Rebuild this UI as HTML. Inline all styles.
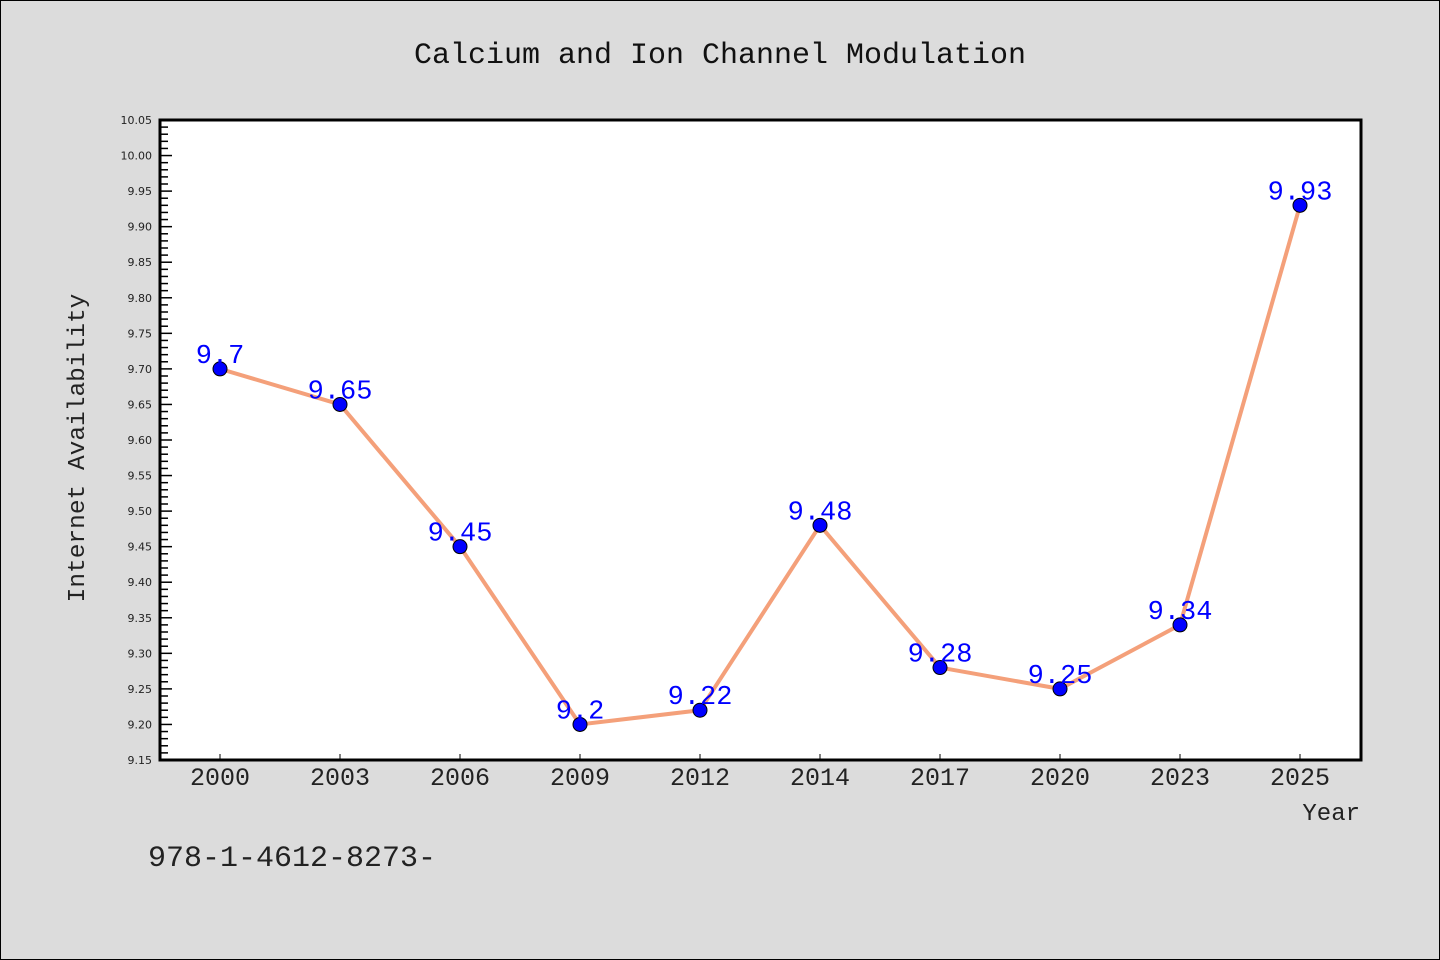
<!DOCTYPE html>
<html><head><meta charset="utf-8"><style>
body{margin:0;background:#dcdcdc;}
svg{display:block;font-family:"Liberation Mono","WenQuanYi Zen Hei",monospace;}
</style></head><body>
<svg width="1440" height="960">
<rect x="0.5" y="0.5" width="1439" height="959" fill="#dcdcdc" stroke="#000"/>
<text x="720" y="63" text-anchor="middle" font-size="30" fill="#111">Calcium and Ion Channel Modulation</text>
<rect x="160" y="120" width="1201" height="640" fill="#fff"/>
<g id="yaxis"></g>
<g id="xaxis"></g>
<g id="series"></g>
<rect x="160" y="120" width="1201" height="640" fill="none" stroke="#000" stroke-width="3"/>
<text x="0" y="0" transform="translate(84,448) rotate(-90)" text-anchor="middle" font-size="24.5" fill="#222">Internet Availability</text>
<text x="1360" y="820" text-anchor="end" font-size="24" fill="#222">Year</text>
<text x="148" y="866" font-size="30" fill="#222">978-1-4612-8273-</text>
</svg>
<script>
const categories=["2000","2003","2006","2009","2012","2014","2017","2020","2023","2025"];
const values=[9.7,9.65,9.45,9.2,9.22,9.48,9.28,9.25,9.34,9.93];
const valueLabels=["9.7","9.65","9.45","9.2","9.22","9.48","9.28","9.25","9.34","9.93"];
const yTicks=["9.15","9.20","9.25","9.30","9.35","9.40","9.45","9.50","9.55","9.60","9.65","9.70","9.75","9.80","9.85","9.90","9.95","10.00","10.05"];
const NS="http://www.w3.org/2000/svg";
const yMin=9.15,yMax=10.05,plotTop=120,plotBot=760,plotLeft=160,plotRight=1360;
const yScale=v=>plotBot-(v-yMin)/(yMax-yMin)*(plotBot-plotTop);
const bw=(plotRight-plotLeft)/categories.length;
const xScale=i=>plotLeft+bw*(i+0.5);
function mk(t,a,p){const e=document.createElementNS(NS,t);for(const k in a)e.setAttribute(k,a[k]);p.appendChild(e);return e;}
const ya=document.getElementById('yaxis');
for(let k=0;k<=90;k++){
 const v=yMin+k*0.01;const major=k%5===0;
 const t=mk('line',{x1:160,x2:major?172:168,y1:yScale(v),y2:yScale(v),stroke:'#000','stroke-width':1.5},ya);
 
 
}
yTicks.forEach(s=>{
 const t=mk('text',{x:152,y:yScale(parseFloat(s))+4,'text-anchor':'end','font-size':11,fill:'#222','font-family':'DejaVu Sans,sans-serif'},ya);
 t.textContent=s;
 
 
});
const xa=document.getElementById('xaxis');
categories.forEach((c,i)=>{
 const l=mk('line',{x1:xScale(i),x2:xScale(i),y1:760,y2:754,stroke:'#000','stroke-width':1},xa);
 
 
 const t=mk('text',{x:xScale(i),y:785,'text-anchor':'middle','font-size':25,fill:'#222'},xa);
 t.textContent=c;
 
 
});
const se=document.getElementById('series');
const pl=mk('polyline',{points:values.map((v,i)=>xScale(i)+','+yScale(v)).join(' '),fill:'none',stroke:'#f4a07a','stroke-width':4,'stroke-linejoin':'round'},se);


values.forEach((v,i)=>{
 const c=mk('circle',{cx:xScale(i),cy:yScale(v),r:7,fill:'#0000ff',stroke:'#000','stroke-width':1},se);
 
 
 const t=mk('text',{x:xScale(i),y:yScale(v)-6,'text-anchor':'middle','font-size':27,fill:'#0000ff'},se);
 t.textContent=valueLabels[i];
 
 
});
</script>
</body></html>
